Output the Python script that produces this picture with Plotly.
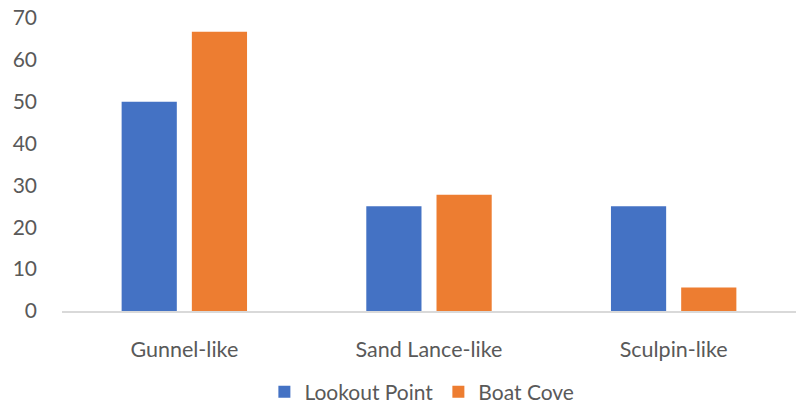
import plotly.graph_objects as go

categories = ["Gunnel-like", "Sand Lance-like", "Sculpin-like"]
lookout_point = [50.0, 25.0, 25.0]
boat_cove = [66.7, 27.8, 5.6]
y_ticks = [0, 10, 20, 30, 40, 50, 60, 70]

FONT = "Lato, 'Open Sans', sans-serif"
TEXT_GRAY = "#595959"

fig = go.Figure()
fig.add_trace(go.Bar(name="Lookout Point", x=categories, y=lookout_point,
                     marker=dict(color="#4472C4", line=dict(width=0))))
fig.add_trace(go.Bar(name="Boat Cove", x=categories, y=boat_cove,
                     marker=dict(color="#ED7D31", line=dict(width=0))))

fig.update_layout(
    width=796, height=406,
    margin=dict(l=62, r=0, t=18, b=95),
    paper_bgcolor="white", plot_bgcolor="white",
    barmode="group", bargap=0.426, bargroupgap=0.214,
    font=dict(family=FONT, size=21.5, color=TEXT_GRAY),
    showlegend=True,
    legend=dict(orientation="h", xref="container", yref="container",
                x=0.53, xanchor="center", y=0.034, yanchor="middle",
                font=dict(family=FONT, size=21, color=TEXT_GRAY),
                traceorder="normal", itemwidth=30),
)
fig.update_xaxes(showgrid=False, showline=True, linecolor="#D9D9D9", linewidth=1.5,
                 ticks="", ticklabelstandoff=18, zeroline=False, automargin=False)
fig.update_yaxes(range=[0, 70], tickvals=y_ticks, showgrid=False, zeroline=False,
                 showline=False, ticks="", ticklabelstandoff=24, automargin=False,
                 tickfont=dict(size=21))

fig.write_html("out.html")
